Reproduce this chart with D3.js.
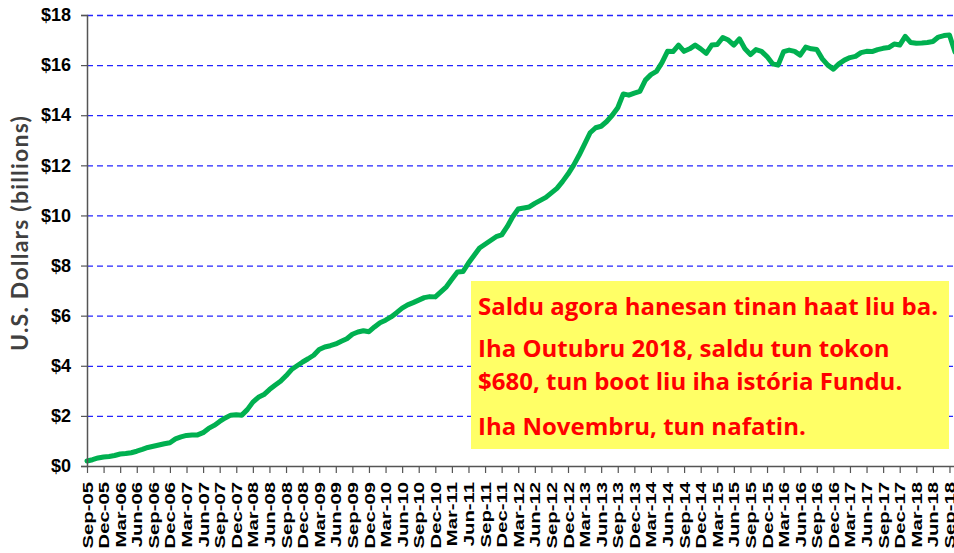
<!DOCTYPE html>
<html>
<head>
<meta charset="utf-8">
<script src="https://cdn.jsdelivr.net/npm/d3@7"></script>
<style>
  body { margin: 0; background: #fff; }
  svg { display: block; font-family: Lato, "Open Sans", sans-serif; }
</style>
</head>
<body>
<div id="chart"></div>
<script>
/* global d3 */

// monthly balance, $ billions, Sep-05 .. Oct-18
var balance = [
  0.20, 0.25, 0.32, 0.36, 0.38, 0.42, 0.48, 0.50, 0.53, 0.59, 0.66, 0.74,
  0.79, 0.84, 0.89, 0.93, 1.08, 1.16, 1.22, 1.24, 1.24, 1.33, 1.50, 1.62,
  1.78, 1.92, 2.03, 2.05, 2.03, 2.25, 2.55, 2.74, 2.85, 3.05, 3.22, 3.38,
  3.60, 3.85, 4.00, 4.15, 4.28, 4.42, 4.65, 4.75, 4.80, 4.87, 4.98, 5.08,
  5.26, 5.35, 5.40, 5.36, 5.55, 5.72, 5.82, 5.95, 6.12, 6.30, 6.43, 6.52,
  6.62, 6.72, 6.76, 6.75, 6.95, 7.15, 7.45, 7.74, 7.76, 8.10, 8.40, 8.70,
  8.85, 9.00, 9.15, 9.22, 9.55, 9.95, 10.26, 10.30, 10.34, 10.48, 10.60, 10.72,
  10.90, 11.08, 11.35, 11.65, 12.00, 12.40, 12.85, 13.30, 13.50, 13.56, 13.75, 14.00,
  14.30, 14.85, 14.80, 14.88, 14.95, 15.40, 15.62, 15.75, 16.10, 16.55, 16.54, 16.80,
  16.55, 16.65, 16.80, 16.65, 16.47, 16.80, 16.82, 17.10, 17.00, 16.80, 17.05, 16.65,
  16.42, 16.62, 16.55, 16.34, 16.05, 16.00, 16.54, 16.60, 16.55, 16.40, 16.72, 16.65,
  16.62, 16.25, 16.00, 15.84, 16.05, 16.20, 16.30, 16.35, 16.50, 16.55, 16.54, 16.62,
  16.67, 16.70, 16.84, 16.80, 17.15, 16.90, 16.87, 16.88, 16.90, 16.94, 17.12, 17.18,
  17.20, 16.52
];

var tickLabels = [
  "Sep-05", "Dec-05", "Mar-06", "Jun-06", "Sep-06", "Dec-06", "Mar-07", "Jun-07",
  "Sep-07", "Dec-07", "Mar-08", "Jun-08", "Sep-08", "Dec-08", "Mar-09", "Jun-09",
  "Sep-09", "Dec-09", "Mar-10", "Jun-10", "Sep-10", "Dec-10", "Mar-11", "Jun-11",
  "Sep-11", "Dec-11", "Mar-12", "Jun-12", "Sep-12", "Dec-12", "Mar-13", "Jun-13",
  "Sep-13", "Dec-13", "Mar-14", "Jun-14", "Sep-14", "Dec-14", "Mar-15", "Jun-15",
  "Sep-15", "Dec-15", "Mar-16", "Jun-16", "Sep-16", "Dec-16", "Mar-17", "Jun-17",
  "Sep-17", "Dec-17", "Mar-18", "Jun-18", "Sep-18"
];

var yTicks = [0, 2, 4, 6, 8, 10, 12, 14, 16, 18];

var noteLines = [
  "Saldu agora hanesan tinan haat liu ba.",
  "Iha Outubru 2018, saldu tun tokon",
  "$680, tun boot liu iha istória Fundu.",
  "Iha Novembru, tun nafatin."
];

var width = 954,
  height = 553,
  margin = {top: 15, right: -1, bottom: 87, left: 87},
  innerWidth = width - margin.left - margin.right,
  innerHeight = height - margin.top - margin.bottom;

var fmt = d3.timeFormat("%b-%y");
var months = d3.timeMonth.range(new Date(2005, 8, 1), new Date(2018, 10, 1)).map(fmt);

var xScale = d3.scalePoint().domain(months).range([0, innerWidth]);
var yScale = d3.scaleLinear().domain([0, 18]).range([innerHeight, 0]);

var svg = d3.select("#chart").append("svg")
    .attr("width", width)
    .attr("height", height);

var g = svg.append("g")
    .attr("transform", "translate(" + margin.left + "," + margin.top + ")");

// dashed blue gridlines
g.append("g")
    .attr("class", "grid")
    .call(d3.axisLeft(yScale).tickValues(yTicks.slice(1)).tickSize(-innerWidth).tickFormat(""))
    .call(function (s) { s.select(".domain").remove(); })
    .selectAll("line")
      .attr("stroke", "#2424ff")
      .attr("stroke-width", 1.3)
      .attr("stroke-dasharray", "6,4");

// balance line
var line = d3.line()
    .x(function (d, i) { return xScale(months[i]); })
    .y(function (d) { return yScale(d); });

g.append("path")
    .datum(balance)
    .attr("fill", "none")
    .attr("stroke", "#00b050")
    .attr("stroke-width", 5)
    .attr("stroke-linejoin", "round")
    .attr("stroke-linecap", "round")
    .attr("d", line);

// y axis
var yAxis = g.append("g")
    .call(d3.axisLeft(yScale).tickValues(yTicks).tickSize(6).tickPadding(10)
      .tickFormat(function (d) { return "$" + d; }));
yAxis.select(".domain").attr("stroke", "#555").attr("stroke-width", 1.5);
yAxis.selectAll(".tick line").attr("stroke", "#555").attr("stroke-width", 1.2);
yAxis.selectAll(".tick text")
    .attr("fill", "#000")
    .style("font-size", "18px")
    .style("font-weight", "900");

// x axis
var stretch = 1.45;
var xAxis = g.append("g")
    .attr("transform", "translate(0," + innerHeight + ")")
    .call(d3.axisBottom(xScale).tickValues(tickLabels).tickSize(7).tickSizeOuter(0));
xAxis.select(".domain").attr("stroke", "#555").attr("stroke-width", 1.5);
xAxis.selectAll(".tick line").attr("stroke", "#555").attr("stroke-width", 1.2);
xAxis.selectAll(".tick text")
    .attr("fill", "#000")
    .attr("text-anchor", "end")
    .attr("x", -16 / stretch)
    .attr("y", 0)
    .attr("dy", "0.36em")
    .attr("transform", "rotate(-90) scale(" + stretch + ",1)")
    .style("font-size", "14px")
    .style("font-weight", "900");

// y axis title
svg.append("text")
    .attr("transform", "translate(28,233) rotate(-90)")
    .attr("text-anchor", "middle")
    .attr("fill", "#404040")
    .style("font-size", "23px")
    .style("letter-spacing", "1.2px")
    .style("font-weight", "bold")
    .text("U.S. Dollars (billions)");

// yellow note box
var note = svg.append("g").attr("transform", "translate(471,281)");
note.append("rect")
    .attr("width", 478)
    .attr("height", 168)
    .attr("fill", "#ffff66");

var baselines = [34, 76, 109, 154];
note.selectAll("text.note")
    .data(noteLines)
  .enter().append("text")
    .attr("class", "note")
    .attr("x", 7)
    .attr("y", function (d, i) { return baselines[i]; })
    .attr("fill", "#ff0000")
    .style("font-family", "'Open Sans', Lato, sans-serif")
    .style("font-size", "24px")
    .style("font-weight", "bold")
    .text(function (d) { return d; });
</script>
</body>
</html>
